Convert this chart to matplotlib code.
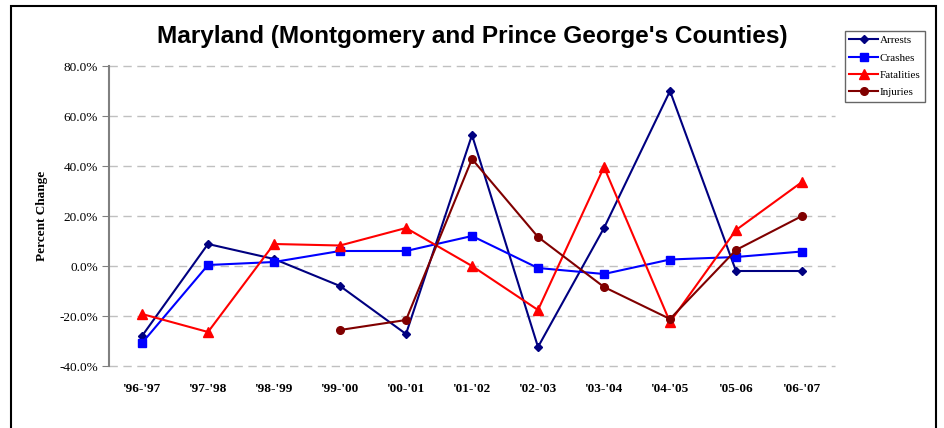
import numpy as np
import matplotlib.pyplot as plt
from matplotlib.patches import Rectangle
from matplotlib.ticker import FuncFormatter

years = ["'96-'97", "'97-'98", "'98-'99", "'99-'00", "'00-'01", "'01-'02",
         "'02-'03", "'03-'04", "'04-'05", "'05-06", "'06-'07"]

arrests = [-28.0, 8.8, 2.8, -8.0, -27.2, 52.4, -32.4, 15.2, 70.0, -2.0, -2.0]
crashes = [-30.8, 0.4, 1.6, 6.0, 6.0, 12.0, -0.8, -3.2, 2.6, 3.6, 5.8]
fatalities = [-19.2, -26.4, 8.8, 8.2, 15.2, 0.0, -17.6, 39.6, -22.4, 14.4, 33.6]
injuries = [np.nan, np.nan, np.nan, -25.6, -21.6, 42.8, 11.6, -8.4, -21.2, 6.4, 20.0]

serif = 'Liberation Serif'
sans = 'Liberation Sans'

fig = plt.figure(figsize=(9.44, 4.28), dpi=100)
ax = fig.add_axes([109 / 944, 1 - 366 / 428, 726 / 944, 300 / 428])

x = np.arange(len(years))
ax.plot(x, arrests, color='#000080', marker='D', markersize=4.5, lw=1.5, label='Arrests')
ax.plot(x, crashes, color='#0000FF', marker='s', markersize=5.5, lw=1.5, label='Crashes')
ax.plot(x, fatalities, color='#FF0000', marker='^', markersize=6.5, lw=1.5, label='Fatalities')
ax.plot(x, injuries, color='#800000', marker='o', markersize=5.5, lw=1.5, label='Injuries')

ax.set_xlim(-0.5, len(years) - 0.5)
ax.set_ylim(-40, 80)
ax.set_yticks(np.arange(-40, 81, 20))
ax.yaxis.set_major_formatter(FuncFormatter(lambda v, p: f'{v:.1f}%'))
ax.set_xticks(x)
ax.set_xticklabels(years, fontfamily=serif, fontweight='bold', fontsize=9.5)
ax.tick_params(axis='x', length=0, pad=12)
ax.tick_params(axis='y', direction='out', length=5, color='#808080', labelsize=9.5, pad=3)
for lab in ax.get_yticklabels():
    lab.set_fontfamily(serif)

ax.grid(axis='y', color='#c0c0c0', linestyle=(0, (6, 4)), lw=1)
for g in ax.get_ygridlines():
    g.set_clip_on(False)
ax.set_axisbelow(True)
for s in ['top', 'right', 'bottom']:
    ax.spines[s].set_visible(False)
ax.spines['left'].set_color('#808080')
ax.spines['left'].set_linewidth(1.5)

ax.set_ylabel('Percent Change', fontfamily=serif, fontweight='bold', fontsize=9.5, labelpad=8)

fig.text(472 / 944, 1 - 37 / 428, "Maryland (Montgomery and Prince George's Counties)",
         ha='center', va='center', fontfamily=sans, fontweight='bold', fontsize=17.6)

leg = ax.legend(loc='upper left', bbox_to_anchor=(845 / 944, 1 - 31 / 428),
                bbox_transform=fig.transFigure, prop={'family': serif, 'size': 8},
                frameon=True, fancybox=False, edgecolor='#404040', handlelength=2.6,
                handletextpad=0.15, borderpad=0.4, labelspacing=0.68, borderaxespad=0)
leg.get_frame().set_linewidth(1)

fig.patches.append(Rectangle((11 / 944, -0.05), 925 / 944, 1.05 - 6 / 428,
                             transform=fig.transFigure, fill=False, edgecolor='black', lw=1.5))

fig.savefig('out.png', dpi=100)
